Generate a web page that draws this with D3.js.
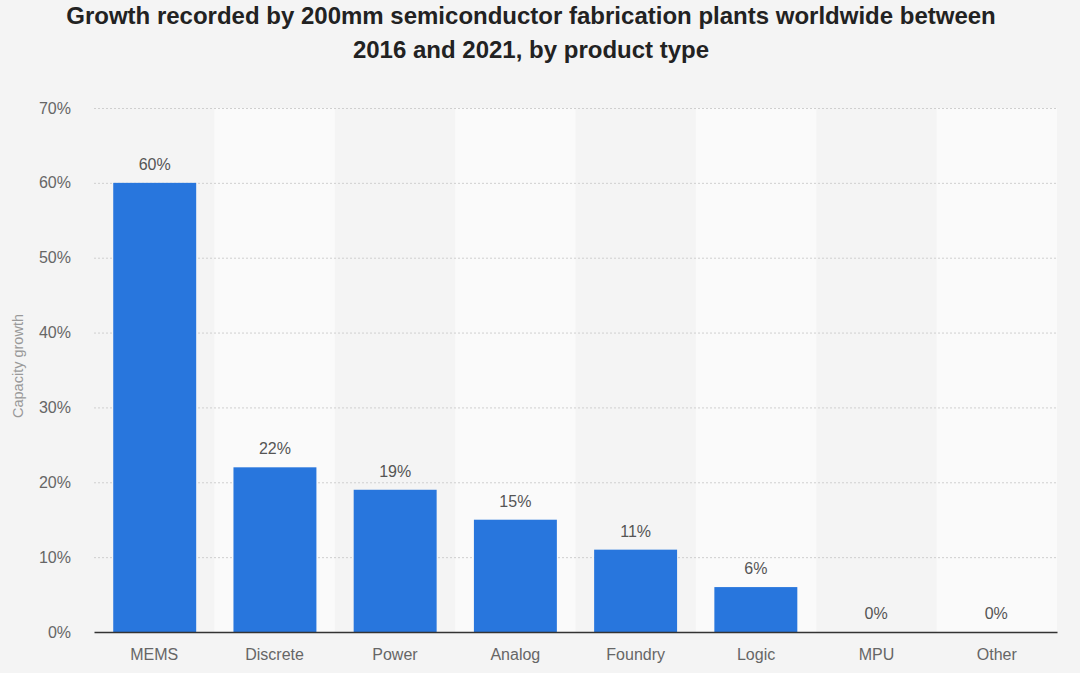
<!DOCTYPE html>
<html>
<head>
<meta charset="utf-8">
<script src="https://cdn.jsdelivr.net/npm/d3@7"></script>
<style>
  body { margin: 0; background: #f4f4f4; }
  svg { display: block; font-family: "Liberation Sans", Arial, sans-serif; }
</style>
</head>
<body>
<div id="chart"></div>
<script>
// data
var categories = ["MEMS", "Discrete", "Power", "Analog", "Foundry", "Logic", "MPU", "Other"];
var growth = [60, 22, 19, 15, 11, 6, 0, 0];
var yTicks = [0, 10, 20, 30, 40, 50, 60, 70];

var data = categories.map(function(c, i) { return {name: c, value: growth[i]}; });

var W = 1080, H = 673;
var margin = {top: 108, right: 23, bottom: 41, left: 94},
    width = W - margin.left - margin.right,
    height = H - margin.top - margin.bottom;

var svg = d3.select("#chart")
  .append("svg")
    .attr("width", W)
    .attr("height", H);

svg.append("rect")
  .attr("width", W).attr("height", H)
  .attr("fill", "#f4f4f4");

// title
var titleX = 531;
var title = svg.append("text")
  .attr("x", titleX)
  .attr("text-anchor", "middle")
  .style("font-size", "24px")
  .style("font-weight", "bold")
  .attr("fill", "#222");
title.append("tspan").attr("x", titleX).attr("y", 24)
  .text("Growth recorded by 200mm semiconductor fabrication plants worldwide between");
title.append("tspan").attr("x", titleX).attr("y", 58)
  .text("2016 and 2021, by product type");

var g = svg.append("g")
  .attr("transform", "translate(" + margin.left + "," + margin.top + ")");

var x = d3.scaleBand()
  .domain(categories)
  .range([0, width])
  .paddingInner(0.31)
  .paddingOuter(0.16);

var band = d3.scaleBand()
  .domain(categories)
  .range([0, width]);

var y = d3.scaleLinear()
  .domain([0, 70])
  .range([height, 0]);

// alternating column backgrounds
g.selectAll(".bandbg")
  .data(categories.filter(function(d, i) { return i % 2 === 1; }))
  .enter()
  .append("rect")
    .attr("x", function(d) { return band(d); })
    .attr("y", 0)
    .attr("width", band.bandwidth())
    .attr("height", height)
    .attr("fill", "#fafafa");

// grid
g.append("g")
  .attr("class", "grid")
  .call(d3.axisLeft(y).tickValues(yTicks.slice(1)).tickSize(-width).tickFormat(""))
  .call(function(s) {
    s.select(".domain").remove();
    s.selectAll("line")
      .attr("stroke", "#cfcfcf")
      .attr("stroke-dasharray", "2,2");
  });

// y axis labels
g.append("g")
  .call(d3.axisLeft(y).tickValues(yTicks).tickSize(0).tickPadding(23)
    .tickFormat(function(d) { return d + "%"; }))
  .call(function(s) {
    s.select(".domain").remove();
    s.selectAll("text")
      .attr("fill", "#666")
      .style("font-size", "16px")
      .style("font-family", "Liberation Sans, Arial, sans-serif");
  });

// y axis title
svg.append("text")
  .attr("transform", "translate(23," + (margin.top + height / 2 - 4) + ") rotate(-90)")
  .attr("text-anchor", "middle")
  .attr("fill", "#999")
  .style("font-size", "14.5px")
  .text("Capacity growth");

// bars
g.selectAll(".bar")
  .data(data)
  .enter()
  .append("rect")
    .attr("x", function(d) { return x(d.name); })
    .attr("y", function(d) { return y(d.value); })
    .attr("width", x.bandwidth())
    .attr("height", function(d) { return height - y(d.value); })
    .attr("fill", "#2876dd");

// value labels
g.selectAll(".vlabel")
  .data(data)
  .enter()
  .append("text")
    .attr("x", function(d) { return x(d.name) + x.bandwidth() / 2; })
    .attr("y", function(d) { return y(d.value) - 13; })
    .attr("text-anchor", "middle")
    .attr("fill", "#555")
    .style("font-size", "16px")
    .text(function(d) { return d.value + "%"; });

// x axis
g.append("g")
  .attr("transform", "translate(0," + height + ")")
  .call(d3.axisBottom(band).tickSize(0).tickPadding(17))
  .call(function(s) {
    s.select(".domain").attr("stroke", "#333").attr("stroke-width", 1.5);
    s.selectAll("text")
      .attr("fill", "#666")
      .style("font-size", "16px")
      .style("font-family", "Liberation Sans, Arial, sans-serif");
  });
</script>
</body>
</html>
